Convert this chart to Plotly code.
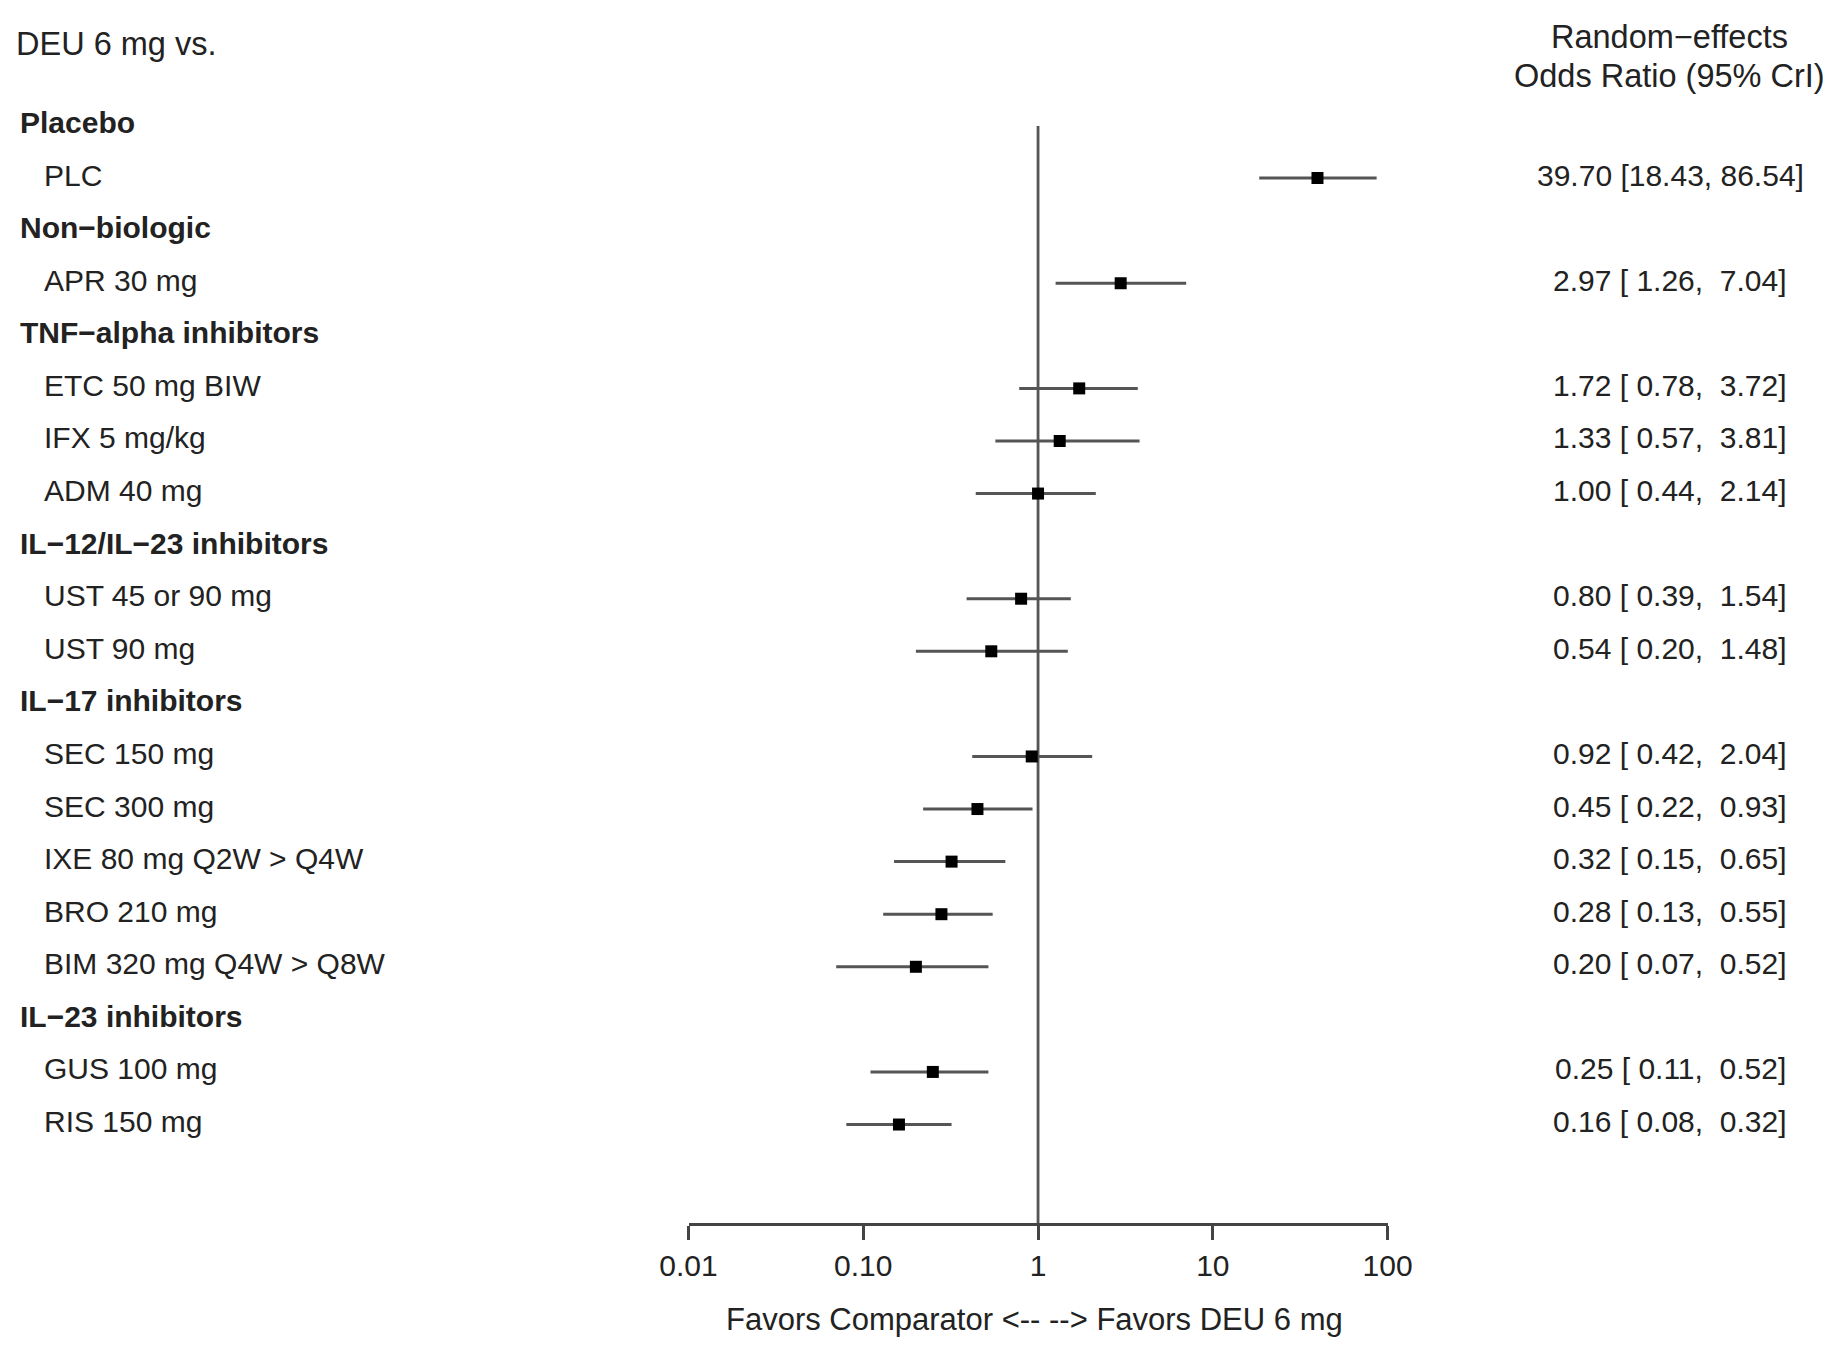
import plotly.graph_objects as go

# ---- data ----
row_labels = ["Placebo", "PLC", "Non\u2212biologic", "APR 30 mg", "TNF\u2212alpha inhibitors",
              "ETC 50 mg BIW", "IFX 5 mg/kg", "ADM 40 mg", "IL\u221212/IL\u221223 inhibitors",
              "UST 45 or 90 mg", "UST 90 mg", "IL\u221217 inhibitors", "SEC 150 mg", "SEC 300 mg",
              "IXE 80 mg Q2W > Q4W", "BRO 210 mg", "BIM 320 mg Q4W > Q8W", "IL\u221223 inhibitors",
              "GUS 100 mg", "RIS 150 mg"]
is_heading = [True, False, True, False, True, False, False, False, True, False, False,
              True, False, False, False, False, False, True, False, False]
odds_ratio = [None, 39.70, None, 2.97, None, 1.72, 1.33, 1.00, None, 0.80, 0.54,
              None, 0.92, 0.45, 0.32, 0.28, 0.20, None, 0.25, 0.16]
ci_low = [None, 18.43, None, 1.26, None, 0.78, 0.57, 0.44, None, 0.39, 0.20,
          None, 0.42, 0.22, 0.15, 0.13, 0.07, None, 0.11, 0.08]
ci_high = [None, 86.54, None, 7.04, None, 3.72, 3.81, 2.14, None, 1.54, 1.48,
           None, 2.04, 0.93, 0.65, 0.55, 0.52, None, 0.52, 0.32]
tick_vals = [0.01, 0.1, 1, 10, 100]
tick_text = ["0.01", "0.10", "1", "10", "100"]
title_left = "DEU 6 mg vs."
title_right = ["Random\u2212effects", "Odds Ratio (95% CrI)"]
x_label = "Favors Comparator <-- --> Favors DEU 6 mg"

W, H = 1830, 1359
FONT = "Liberation Sans, Arial, Helvetica, sans-serif"
TXT = "#222222"
FS = 30
FS_HEAD = 32.5
TEXT_SHIFT = 3  # row text sits slightly above the marker centre line

n = len(row_labels)
ypos = [n - 1 - i for i in range(n)]

# pixel geometry of the row layout
ROW_TOP_PX, ROW_STEP_PX = 125.5, 52.58
AXIS_PX = 1223.0
LINE_TOP_PX = 126.0
row_bottom_px = ROW_TOP_PX + ROW_STEP_PX * (n - 1)
y_min = (row_bottom_px - AXIS_PX) / ROW_STEP_PX
y_max = row_bottom_px / ROW_STEP_PX
y_line_top = (row_bottom_px - LINE_TOP_PX) / ROW_STEP_PX

xs, ys, ep, em = [], [], [], []
for i in range(n):
    if odds_ratio[i] is None:
        continue
    xs.append(odds_ratio[i])
    ys.append(ypos[i])
    ep.append(ci_high[i] - odds_ratio[i])
    em.append(odds_ratio[i] - ci_low[i])

fig = go.Figure()
fig.add_trace(go.Scatter(
    x=xs, y=ys, mode="markers",
    marker=dict(symbol="square", size=12, color="black", line=dict(width=0)),
    error_x=dict(type="data", symmetric=False, array=ep, arrayminus=em,
                 width=0, thickness=3, color="#555555"),
    showlegend=False, hoverinfo="skip",
))

annotations = []
for i in range(n):
    annotations.append(dict(
        x=(17.5 if is_heading[i] else 42) / W, xref="paper", y=ypos[i], yref="y",
        yshift=TEXT_SHIFT,
        text=("<b>%s</b>" % row_labels[i]) if is_heading[i] else row_labels[i],
        showarrow=False, xanchor="left", yanchor="middle",
        font=dict(family=FONT, size=FS, color=TXT)))
    if odds_ratio[i] is not None:
        s = "%.2f [%5.2f, %5.2f]" % (odds_ratio[i], ci_low[i], ci_high[i])
        s = s.replace(" ", "\u00a0")
        annotations.append(dict(
            x=1670 / W, xref="paper", y=ypos[i], yref="y", yshift=TEXT_SHIFT, text=s,
            showarrow=False, xanchor="center", yanchor="middle",
            font=dict(family=FONT, size=FS, color=TXT)))

annotations.append(dict(x=14 / W, xref="paper", y=1 - 44 / H, yref="paper", text=title_left,
                        showarrow=False, xanchor="left", yanchor="middle",
                        font=dict(family=FONT, size=FS_HEAD, color=TXT)))
for t, yp in zip(title_right, [37, 76]):
    annotations.append(dict(x=1669 / W, xref="paper", y=1 - yp / H, yref="paper", text=t,
                            showarrow=False, xanchor="center", yanchor="middle",
                            font=dict(family=FONT, size=FS_HEAD, color=TXT)))
annotations.append(dict(x=1034 / W, xref="paper", y=1 - 1319 / H, yref="paper", text=x_label,
                        showarrow=False, xanchor="center", yanchor="middle",
                        font=dict(family=FONT, size=31, color=TXT)))

fig.add_shape(type="line", xref="x", x0=1, x1=1, yref="y", y0=y_min, y1=y_line_top,
              line=dict(color="#555555", width=2.8), layer="below")

fig.update_layout(
    width=W, height=H,
    margin=dict(l=0, r=0, t=0, b=0, pad=0, autoexpand=False),
    paper_bgcolor="white", plot_bgcolor="white",
    annotations=annotations,
    showlegend=False,
    xaxis=dict(type="log", range=[-2, 2], domain=[688.5 / W, 1387.6 / W], automargin=False,
               tickvals=tick_vals, ticktext=tick_text, ticks="outside", ticklen=14,
               tickwidth=2.5, tickcolor="#444444", showline=True, linecolor="#444444",
               linewidth=2.5, showgrid=False, zeroline=False, ticklabelstandoff=0,
               tickfont=dict(family=FONT, size=FS, color=TXT)),
    yaxis=dict(range=[y_min, y_max], domain=[1 - AXIS_PX / H, 1], visible=False,
               automargin=False, showgrid=False, zeroline=False),
)

fig.write_html("out.html", config={"displayModeBar": False},
               post_script="document.body.style.margin='0';document.body.style.overflow='hidden';")
